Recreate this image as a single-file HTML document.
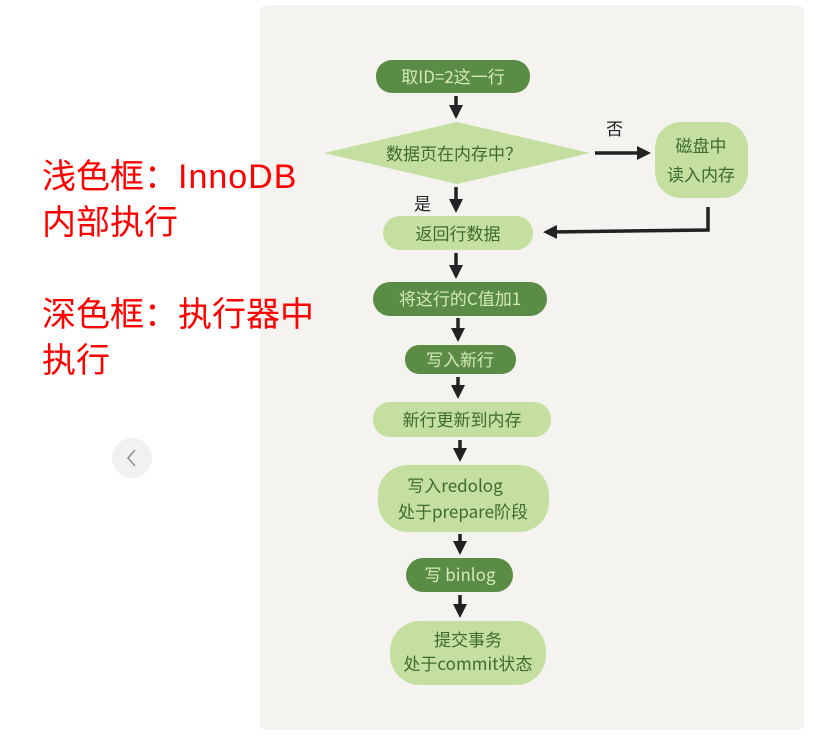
<!DOCTYPE html>
<html><head><meta charset="utf-8"><style>
body{margin:0;width:825px;height:743px;background:#fff;position:relative;overflow:hidden;font-family:"Liberation Sans","Noto Sans CJK SC",sans-serif}
.panel{position:absolute;left:260px;top:5px;width:544px;height:725px;background:#f4f3ef;border-radius:7px}
.red{position:absolute;left:42px;color:#f00;font-size:34px;line-height:46px;font-family:"Liberation Sans","Noto Sans CJK SC",sans-serif;white-space:nowrap}
.btn{position:absolute;left:112px;top:438px;width:40px;height:40px;border-radius:50%;background:#f0f1f3}
svg{position:absolute;left:0;top:0}
</style></head><body>
<div class="panel"></div>
<div class="red" style="top:154px">浅色框：<span style="letter-spacing:1px">InnoDB</span><br>内部执行</div>
<div class="red" style="top:292px">深色框：执行器中<br>执行</div>
<div class="btn"><svg width="40" height="40"><polyline points="23,12 16,20 23,28" fill="none" stroke="#8a8d93" stroke-width="1.5"/></svg></div>
<svg width="825" height="743" font-family="'Noto Sans CJK SC',sans-serif">
<defs><marker id="a" markerWidth="4" markerHeight="4" refX="2" refY="2" orient="auto" markerUnits="strokeWidth"><path d="M0,0 L4,2 L0,4 z" fill="#222"/></marker></defs>
<g fill="#5b8c46">
<rect x="376" y="60" width="154" height="33" rx="16"/>
<rect x="373" y="282" width="174" height="34" rx="17"/>
<rect x="405" y="345" width="111" height="29" rx="14"/>
<rect x="406" y="558" width="107" height="34" rx="17"/>
</g>
<g fill="#c4df9f">
<polygon points="324,153 457,122 590,153 457,184"/>
<rect x="655" y="122" width="93" height="76" rx="26"/>
<rect x="383" y="216" width="150" height="34" rx="17"/>
<rect x="373" y="402" width="178" height="35" rx="17"/>
<rect x="378" y="465" width="171" height="67" rx="30"/>
<rect x="390" y="621" width="156" height="64" rx="30"/>
</g>
<g stroke="#222" stroke-width="3.5" fill="none" marker-end="url(#a)">
<line x1="456" y1="96" x2="456" y2="112"/>
<line x1="456" y1="187" x2="456" y2="206"/>
<line x1="595" y1="153" x2="644" y2="153"/>
<polyline points="708,207 708,230 550,232"/>
<line x1="456" y1="253" x2="456" y2="272"/>
<line x1="458" y1="318" x2="458" y2="335"/>
<line x1="458" y1="377" x2="458" y2="392"/>
<line x1="460" y1="440" x2="460" y2="455"/>
<line x1="460" y1="534" x2="460" y2="548"/>
<line x1="460" y1="595" x2="460" y2="611"/>
</g>
<g font-size="17" text-anchor="middle" fill="#d3e9b8">
<text x="453" y="83">取ID=2这一行</text>
<text x="460" y="305">将这行的C值加1</text>
<text x="460" y="366">写入新行</text>
<text x="460" y="581">写 binlog</text>
</g>
<g font-size="17" text-anchor="middle" fill="#3e6b2f">
<text x="454" y="160">数据页在内存中？</text>
<text x="701" y="152">磁盘中</text>
<text x="701" y="181">读入内存</text>
<text x="458" y="240">返回行数据</text>
<text x="462" y="426">新行更新到内存</text>
<text x="455" y="492">写入redolog</text>
<text x="463" y="518">处于prepare阶段</text>
<text x="468" y="646">提交事务</text>
<text x="468" y="670">处于commit状态</text>
</g>
<g font-size="17" fill="#222"><text x="606" y="135">否</text><text x="414" y="210">是</text></g>
</svg>
</body></html>
